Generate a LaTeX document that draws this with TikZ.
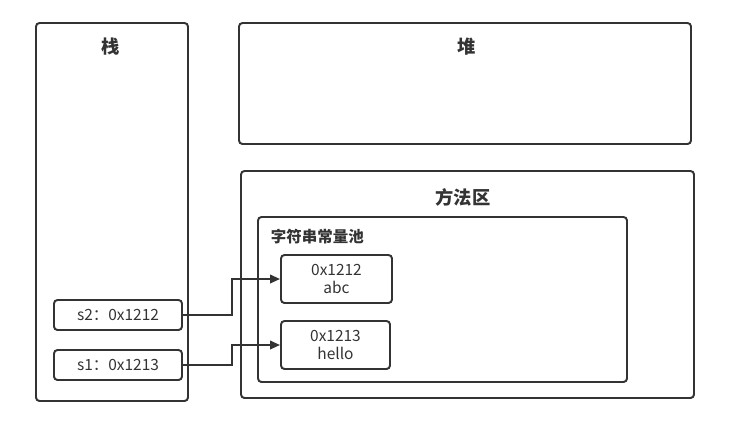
\documentclass[tikz,border=0pt]{standalone}
\usepackage{fontspec}
\setmainfont{Noto Sans CJK SC}
\usetikzlibrary{arrows.meta, positioning}
\definecolor{ln}{HTML}{333333}
\tikzstyle{arrow} = [line width=1.4pt, draw=ln, -{Triangle[length=7pt,width=6pt]}]
\tikzstyle{area} = [rectangle, rounded corners=2.5pt, draw=ln, line width=1.4pt, inner sep=0pt]
\tikzstyle{title} = [font=\fontsize{13}{15}\selectfont\bfseries, text=ln]
\tikzset{
	cell/.style = {area, font=\fontsize{11}{12.5}\selectfont, text=ln, align=center},
}

\begin{document}
\begin{tikzpicture}[x=0.025cm, y=-0.025cm]
\useasboundingbox (0,0) rectangle (743,442);
%----------------------------------------------------------------------------
% Memory areas
\node (stack) [area, minimum width=152*0.025cm, minimum height=378*0.025cm] at (112,212) {};
\node (heap) [area, minimum width=452*0.025cm, minimum height=121*0.025cm] at (465,83.5) {};
\node (methodArea) [area, minimum width=453*0.025cm, minimum height=227*0.025cm] at (467.5,284.5) {};
\node (stringPool) [area, minimum width=369*0.025cm, minimum height=165*0.025cm] at (442.5,299.5) {};

\node (stackTitle) [title] at (111,47) {栈};
\node (heapTitle) [title] at (467,47) {堆};
\node (methodTitle) [title] at (463,197) {方法区};
\node (poolTitle) [title, font=\fontsize{11}{13}\selectfont\bfseries, anchor=west] at (266,237) {字符串常量池};

%----------------------------------------------------------------------------
% Strings and references
\node (str1) [cell, minimum width=111*0.025cm, minimum height=48*0.025cm] at (336.5,279) {0x1212\\abc};
\node (str2) [cell, minimum width=109*0.025cm, minimum height=48*0.025cm] at (335.5,345) {0x1213\\hello};

\node (s2ref) [cell, minimum width=128*0.025cm, minimum height=30*0.025cm] at (118,315) {s2：0x1212};
\node (s1ref) [cell, minimum width=128*0.025cm, minimum height=30*0.025cm] at (118,365) {s1：0x1213};

%----------------------------------------------------------------------------
% Lines
\draw [arrow] (s2ref.east) -- ++(49,0) |- (str1.west);
\draw [arrow] (s1ref.east) -- ++(49,0) |- (str2.west);

\end{tikzpicture}
\end{document}
